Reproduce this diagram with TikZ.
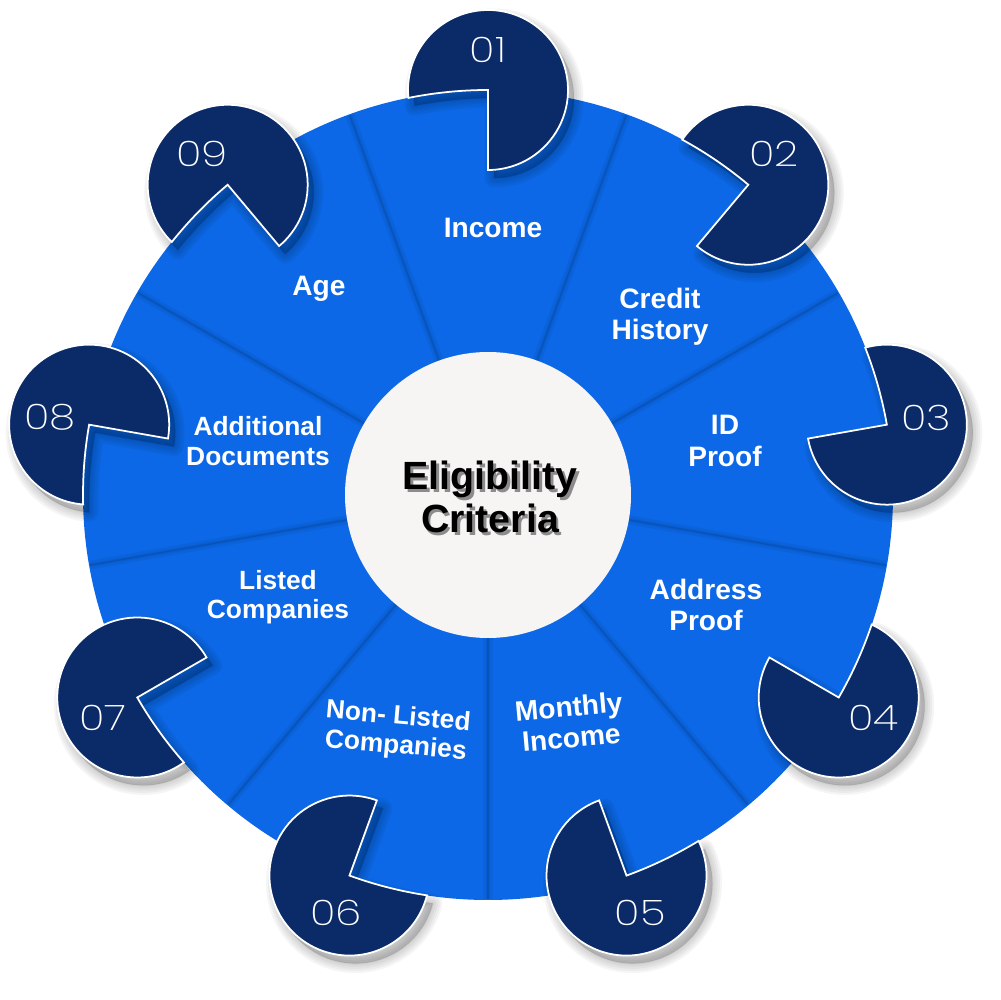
\documentclass[tikz,border=0pt]{standalone}
\usepackage{fontspec}
\setmainfont{Liberation Sans}
\IfFontExistsTF{Poppins ExtraLight}
  {\newfontfamily\numfont{Poppins ExtraLight}[FakeStretch=1.2]}
  {\IfFontExistsTF{Poppins Light}
    {\newfontfamily\numfont{Poppins Light}[FakeStretch=1.2]}
    {\IfFontExistsTF{Lato Light}
       {\newfontfamily\numfont{Lato Light}[FakeStretch=1.3]}
       {\newfontfamily\numfont{Lato}[FakeStretch=1.3]}}}
\definecolor{wheelblue}{RGB}{12,104,230}
\definecolor{navy}{RGB}{11,42,104}
\definecolor{centerfill}{RGB}{247,244,244}
\tikzset{
  lbl/.style={text=white, align=center, inner sep=0pt, font=\bfseries\fontsize{8}{8.9}\selectfont},
  lbls/.style={text=white, align=center, inner sep=0pt, font=\bfseries\fontsize{7.5}{8.3}\selectfont},
  num/.style={text=white, inner sep=0pt, font=\numfont\fontsize{10}{10}\selectfont},
  ttl/.style={align=center, inner sep=0pt, font=\bfseries\fontsize{11.2}{12.2}\selectfont},
}
\begin{document}
\begin{tikzpicture}[x=0.1mm,y=0.1mm]
\useasboundingbox (0,0) rectangle (1000,1000);
\begin{scope}[shift={(488,505)}]
  % wheel
  \fill[wheelblue] (0,0) circle (405);
  % sector boundaries
  \foreach \a in {110,70,30,-10,-50,-90,-130,-170,150} {
    \draw[black, opacity=0.04, line width=2.6pt] (\a:143) -- (\a:404);
    \draw[black, opacity=0.05, line width=1.2pt] (\a:143) -- (\a:404);
    \draw[black, opacity=0.10, line width=0.4pt] (\a:143) -- (\a:404);
  }
  % numbered circles
  \foreach \i in {1,...,9} {
    \pgfmathsetmacro{\c}{90-40*(\i-1)}
    \pgfmathsetmacro{\ca}{\c+11.335}
    \pgfmathsetmacro{\cb}{\c+95.67}
    \pgfmathsetmacro{\cc}{\c-180}
    \foreach \w in {0.6,1.8,3.0,4.2,5.4} {
      \path[shift={(6,-8)}, fill=black, fill opacity=0.04, draw=black, draw opacity=0.04,
            line width=\w pt, line join=round]
        (\c:405) arc[start angle=\c, end angle=\ca, radius=405]
        arc[start angle=\cb, end angle=\cc, radius=80] -- cycle;
    }
    \path[fill=navy, draw=white, line width=0.5pt]
      (\c:405) arc[start angle=\c, end angle=\ca, radius=405]
      arc[start angle=\cb, end angle=\cc, radius=80] -- cycle;
    \node[num] (n\i) at (\c:445) {0\i};
  }
  % centre
  \fill[centerfill] (0,0) circle (143);
  \node[ttl, text=black!55, opacity=0.8] (titleshadow) at (4.5,-4.5) {Eligibility\\Criteria};
  \node[ttl, text=black] (title) at (2,-2) {Eligibility\\Criteria};
  % labels
  \node[lbl] (t1) at (5,267) {Income};
  \node[lbl] (t2) at (172,178) {Credit\\History};
  \node[lbl] (t3) at (237,54) {ID\\Proof};
  \node[lbl] (t4) at (218,-110) {Address\\Proof};
  \node[lbl, rotate=5] (t5) at (82,-227) {Monthly\\Income};
  \node[lbls, rotate=-5] (t6) at (-91,-237) {Non- Listed\\Companies};
  \node[lbls] (t7) at (-210,-102) {Listed\\Companies};
  \node[lbls] (t8) at (-230,54) {Additional\\Documents};
  \node[lbl] (t9) at (-169,206) {Age};
\end{scope}
\end{tikzpicture}
\end{document}
